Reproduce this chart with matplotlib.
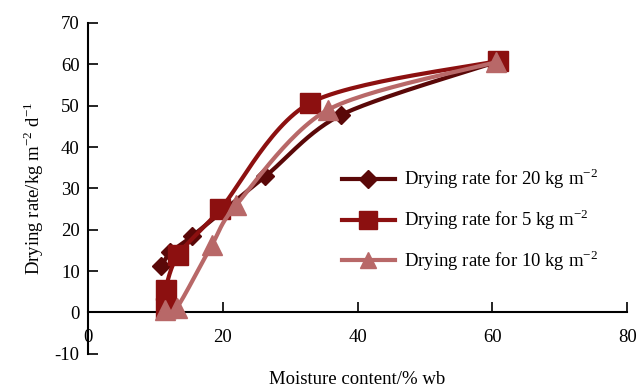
import matplotlib.pyplot as plt
import numpy as np

plt.rcParams['font.family'] = ['Liberation Serif', 'DejaVu Serif']
plt.rcParams['mathtext.fontset'] = 'custom'
plt.rcParams['mathtext.rm'] = 'Liberation Serif'
plt.rcParams['axes.unicode_minus'] = False

# moisture content (% wb) and drying rate (kg m-2 d-1)
x20 = [10.9, 12.2, 15.4, 26.3, 37.6, 60.5]
y20 = [11.2, 14.5, 18.4, 32.9, 47.8, 60.5]
x5 = [11.5, 11.5, 13.4, 19.6, 33.0, 60.8]
y5 = [1.0, 5.5, 14.0, 24.9, 50.7, 60.8]
x10 = [11.4, 13.2, 18.4, 22.0, 35.6, 60.5]
y10 = [0.7, 1.2, 16.4, 26.0, 49.0, 60.5]

labels = ['Drying rate for 20 kg m$^{\\mathregular{-2}}$', 'Drying rate for 5 kg m$^{\\mathregular{-2}}$',
          'Drying rate for 10 kg m$^{\\mathregular{-2}}$']
colors = ['#5a0808', '#8c1010', '#b86868']
markers = ['D', 's', '^']
msizes = [9, 15, 14]


def smooth(xs, ys, n=30):
    # bezier smoothing through the points, like a spreadsheet smoothed line
    p = np.column_stack([xs, ys]).astype(float)
    p = np.vstack([p[0], p, p[-1]])
    out = []
    t = np.linspace(0, 1, n)[:, None]
    for i in range(1, len(p) - 2):
        p0, p1, p2, p3 = p[i - 1], p[i], p[i + 1], p[i + 2]
        c1 = p1 + (p2 - p0) / 7
        c2 = p2 - (p3 - p1) / 7
        seg = ((1 - t) ** 3) * p1 + 3 * ((1 - t) ** 2) * t * c1 + 3 * (1 - t) * t ** 2 * c2 + t ** 3 * p2
        out.append(seg)
    out = np.vstack(out)
    return out[:, 0], out[:, 1]


fig = plt.figure(figsize=(6.38, 3.88), dpi=100)
ax = fig.add_axes([0.138, 0.088, 0.845, 0.853])

data = [(x20, y20), (x5, y5), (x10, y10)]
order = [2, 0, 1]
for i in order:
    xs, ys = data[i]
    sx, sy = smooth(xs, ys)
    ax.plot(sx, sy, color=colors[i], lw=3, zorder=2 + i)
    ax.plot(xs, ys, ls='none', marker=markers[i], ms=msizes[i], color=colors[i], zorder=2 + i)

handles = [plt.Line2D([], [], color=colors[i], lw=3, marker=markers[i], ms=[9, 13, 12][i]) for i in range(3)]
ax.legend(handles, labels, loc='center left', bbox_to_anchor=(0.44, 0.405), frameon=False,
          fontsize=13.5, handlelength=2.8, labelspacing=0.85, handletextpad=0.5)

ax.set_xlim(0, 80)
ax.set_ylim(-10, 70)
ax.set_xticks([0, 20, 40, 60, 80])
ax.set_yticks(range(-10, 71, 10))
ax.spines['top'].set_visible(False)
ax.spines['right'].set_visible(False)
ax.spines['bottom'].set_position(('data', 0))
ax.spines['left'].set_linewidth(1.5)
ax.spines['bottom'].set_linewidth(1.5)
ax.tick_params(axis='x', direction='in', length=7, width=1.2, labelsize=13.5, pad=12)
ax.tick_params(axis='y', direction='in', length=7, width=1.2, labelsize=13.5, pad=6)
ax.set_xlabel('Moisture content/% wb', fontsize=13.5)
ax.set_ylabel('Drying rate/kg m$^{\\mathregular{-2}}$ d$^{\\mathregular{-1}}$', fontsize=13.5, labelpad=6)
ax.xaxis.set_label_coords(0.5, -0.052)

fig.savefig('out.png', dpi=100)
